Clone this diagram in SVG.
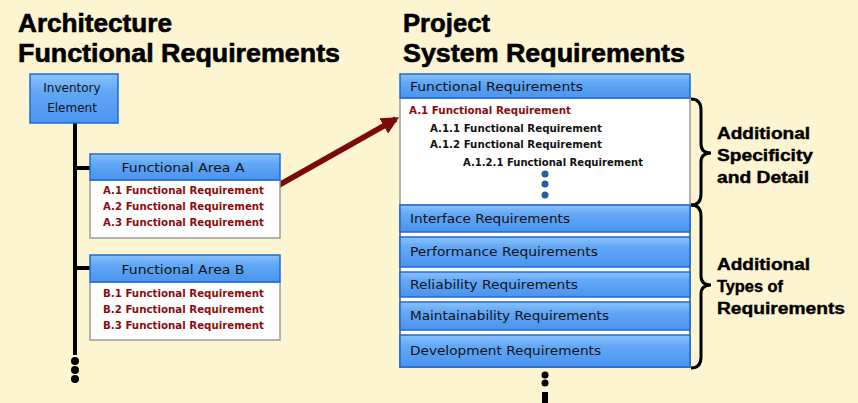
<svg xmlns="http://www.w3.org/2000/svg" width="858" height="403" viewBox="0 0 858 403">
<defs>
<linearGradient id="blue" x1="0" y1="0" x2="0" y2="1">
<stop offset="0" stop-color="#8cc2fb"/>
<stop offset="0.35" stop-color="#62a8f6"/>
<stop offset="1" stop-color="#4a94ee"/>
</linearGradient>
<marker id="arr" viewBox="0 0 10 10" refX="8" refY="5" markerWidth="3.2" markerHeight="3.2" orient="auto">
<path d="M0,0 L10,5 L0,10 z" fill="#7a0a0a"/>
</marker>
<style>
.title{font-family:"Liberation Sans",Arial,sans-serif;font-weight:bold;font-size:25px;fill:#000;stroke:#000;stroke-width:0.6}
.hdr{fill:url(#blue);stroke:#1c6ad8;stroke-width:1.5}
.body{fill:#fff;stroke:#9a9a9a;stroke-width:1.5}
.t{font-family:"DejaVu Sans","Liberation Sans",sans-serif;font-size:12px;fill:#111}
.r{font-family:"DejaVu Sans","Liberation Sans",sans-serif;font-size:10.5px;font-weight:bold;fill:#8a0c0c}
.k{font-family:"DejaVu Sans","Liberation Sans",sans-serif;font-size:10.5px;font-weight:bold;fill:#111}
.side{font-family:"Liberation Sans",Arial,sans-serif;font-weight:bold;font-size:16px;fill:#000;stroke:#000;stroke-width:0.4}
.line{stroke:#000;stroke-width:4;fill:none}
.brace{stroke:#000;stroke-width:3;fill:none}
</style>
</defs>
<rect width="858" height="403" fill="#fdf4d2"/>

<g id="titles">
<text class="title" x="18" y="32" textLength="154" lengthAdjust="spacingAndGlyphs">Architecture</text>
<text class="title" x="18" y="62" textLength="322" lengthAdjust="spacingAndGlyphs">Functional Requirements</text>
<text class="title" x="403" y="32" textLength="87" lengthAdjust="spacingAndGlyphs">Project</text>
<text class="title" x="403" y="62" textLength="282" lengthAdjust="spacingAndGlyphs">System Requirements</text>
</g>

<g id="connectors">
<line class="line" x1="75" y1="123" x2="75" y2="355"/>
<line class="line" x1="75" y1="168" x2="90" y2="168"/>
<line class="line" x1="75" y1="268" x2="90" y2="268"/>
<circle cx="75" cy="361" r="4"/>
<circle cx="75" cy="370" r="4"/>
<circle cx="75" cy="379" r="4"/>
<circle cx="545" cy="375" r="3.5"/>
<circle cx="545" cy="383" r="3.5"/>
<rect x="542" y="392" width="6" height="11" fill="#000"/>
<line x1="272" y1="189" x2="396" y2="119" stroke="#7a0a0a" stroke-width="5.5" marker-end="url(#arr)"/>
<path class="brace" d="M691,99 Q701,99 701,110 L701,144 Q701,153 711,153 Q701,153 701,162 L701,194 Q701,205 691,205"/>
<path class="brace" d="M691,205 Q701,205 701,216 L701,276 Q701,285 711,285 Q701,285 701,294 L701,357 Q701,368 691,368"/>
</g>

<g id="inventory-element">
<rect class="hdr" x="30" y="74" width="88" height="49"/>
<text class="t" x="72" y="92" text-anchor="middle">Inventory</text>
<text class="t" x="72" y="112" text-anchor="middle">Element</text>
</g>

<g id="functional-area-a">
<rect class="body" x="90" y="180" width="190" height="58"/>
<rect class="hdr" x="90" y="154" width="190" height="26"/>
<text class="t" x="183" y="172" text-anchor="middle" textLength="123" lengthAdjust="spacingAndGlyphs">Functional Area A</text>
<text class="r" x="103" y="194" textLength="161" lengthAdjust="spacingAndGlyphs">A.1 Functional Requirement</text>
<text class="r" x="103" y="210" textLength="161" lengthAdjust="spacingAndGlyphs">A.2 Functional Requirement</text>
<text class="r" x="103" y="226" textLength="161" lengthAdjust="spacingAndGlyphs">A.3 Functional Requirement</text>
</g>

<g id="functional-area-b">
<rect class="body" x="90" y="282" width="190" height="58"/>
<rect class="hdr" x="90" y="255" width="190" height="27"/>
<text class="t" x="183" y="274" text-anchor="middle" textLength="123" lengthAdjust="spacingAndGlyphs">Functional Area B</text>
<text class="r" x="103" y="297" textLength="161" lengthAdjust="spacingAndGlyphs">B.1 Functional Requirement</text>
<text class="r" x="103" y="313" textLength="161" lengthAdjust="spacingAndGlyphs">B.2 Functional Requirement</text>
<text class="r" x="103" y="329" textLength="161" lengthAdjust="spacingAndGlyphs">B.3 Functional Requirement</text>
</g>

<g id="functional-requirements">
<rect x="400" y="205" width="290" height="162" fill="#fff" stroke="#555" stroke-width="1.5"/>
<rect class="body" x="400" y="98" width="290" height="107" stroke="#555"/>
<rect class="hdr" x="400" y="74" width="290" height="24"/>
<text class="t" x="410" y="91" textLength="173" lengthAdjust="spacingAndGlyphs">Functional Requirements</text>
<text class="r" x="409" y="114" textLength="162" lengthAdjust="spacingAndGlyphs">A.1 Functional Requirement</text>
<text class="k" x="430" y="132" textLength="172" lengthAdjust="spacingAndGlyphs">A.1.1 Functional Requirement</text>
<text class="k" x="430" y="148" textLength="172" lengthAdjust="spacingAndGlyphs">A.1.2 Functional Requirement</text>
<text class="k" x="463" y="166" textLength="180" lengthAdjust="spacingAndGlyphs">A.1.2.1 Functional Requirement</text>
<circle cx="545" cy="174" r="3.5" fill="#1f5fa8"/>
<circle cx="545" cy="184" r="3.5" fill="#1f5fa8"/>
<circle cx="545" cy="195" r="3.5" fill="#1f5fa8"/>
</g>

<g id="interface-requirements">
<rect class="hdr" x="400" y="205" width="290" height="27"/>
<text class="t" x="410" y="223" textLength="160" lengthAdjust="spacingAndGlyphs">Interface Requirements</text>
</g>
<g id="performance-requirements">
<rect class="hdr" x="400" y="237" width="290" height="30"/>
<text class="t" x="410" y="256" textLength="188" lengthAdjust="spacingAndGlyphs">Performance Requirements</text>
</g>
<g id="reliability-requirements">
<rect class="hdr" x="400" y="272" width="290" height="25"/>
<text class="t" x="410" y="289" textLength="168" lengthAdjust="spacingAndGlyphs">Reliability Requirements</text>
</g>
<g id="maintainability-requirements">
<rect class="hdr" x="400" y="302" width="290" height="28"/>
<text class="t" x="410" y="320" textLength="199" lengthAdjust="spacingAndGlyphs">Maintainability Requirements</text>
</g>
<g id="development-requirements">
<rect class="hdr" x="400" y="335" width="290" height="32"/>
<text class="t" x="410" y="355" textLength="191" lengthAdjust="spacingAndGlyphs">Development Requirements</text>
</g>

<g id="labels">
<text class="side" x="717" y="139" textLength="93" lengthAdjust="spacingAndGlyphs">Additional</text>
<text class="side" x="717" y="161" textLength="96" lengthAdjust="spacingAndGlyphs">Specificity</text>
<text class="side" x="717" y="183" textLength="92" lengthAdjust="spacingAndGlyphs">and Detail</text>
<text class="side" x="717" y="270" textLength="93" lengthAdjust="spacingAndGlyphs">Additional</text>
<text class="side" x="717" y="292" textLength="66" lengthAdjust="spacingAndGlyphs">Types of</text>
<text class="side" x="717" y="314" textLength="128" lengthAdjust="spacingAndGlyphs">Requirements</text>
</g>
</svg>
